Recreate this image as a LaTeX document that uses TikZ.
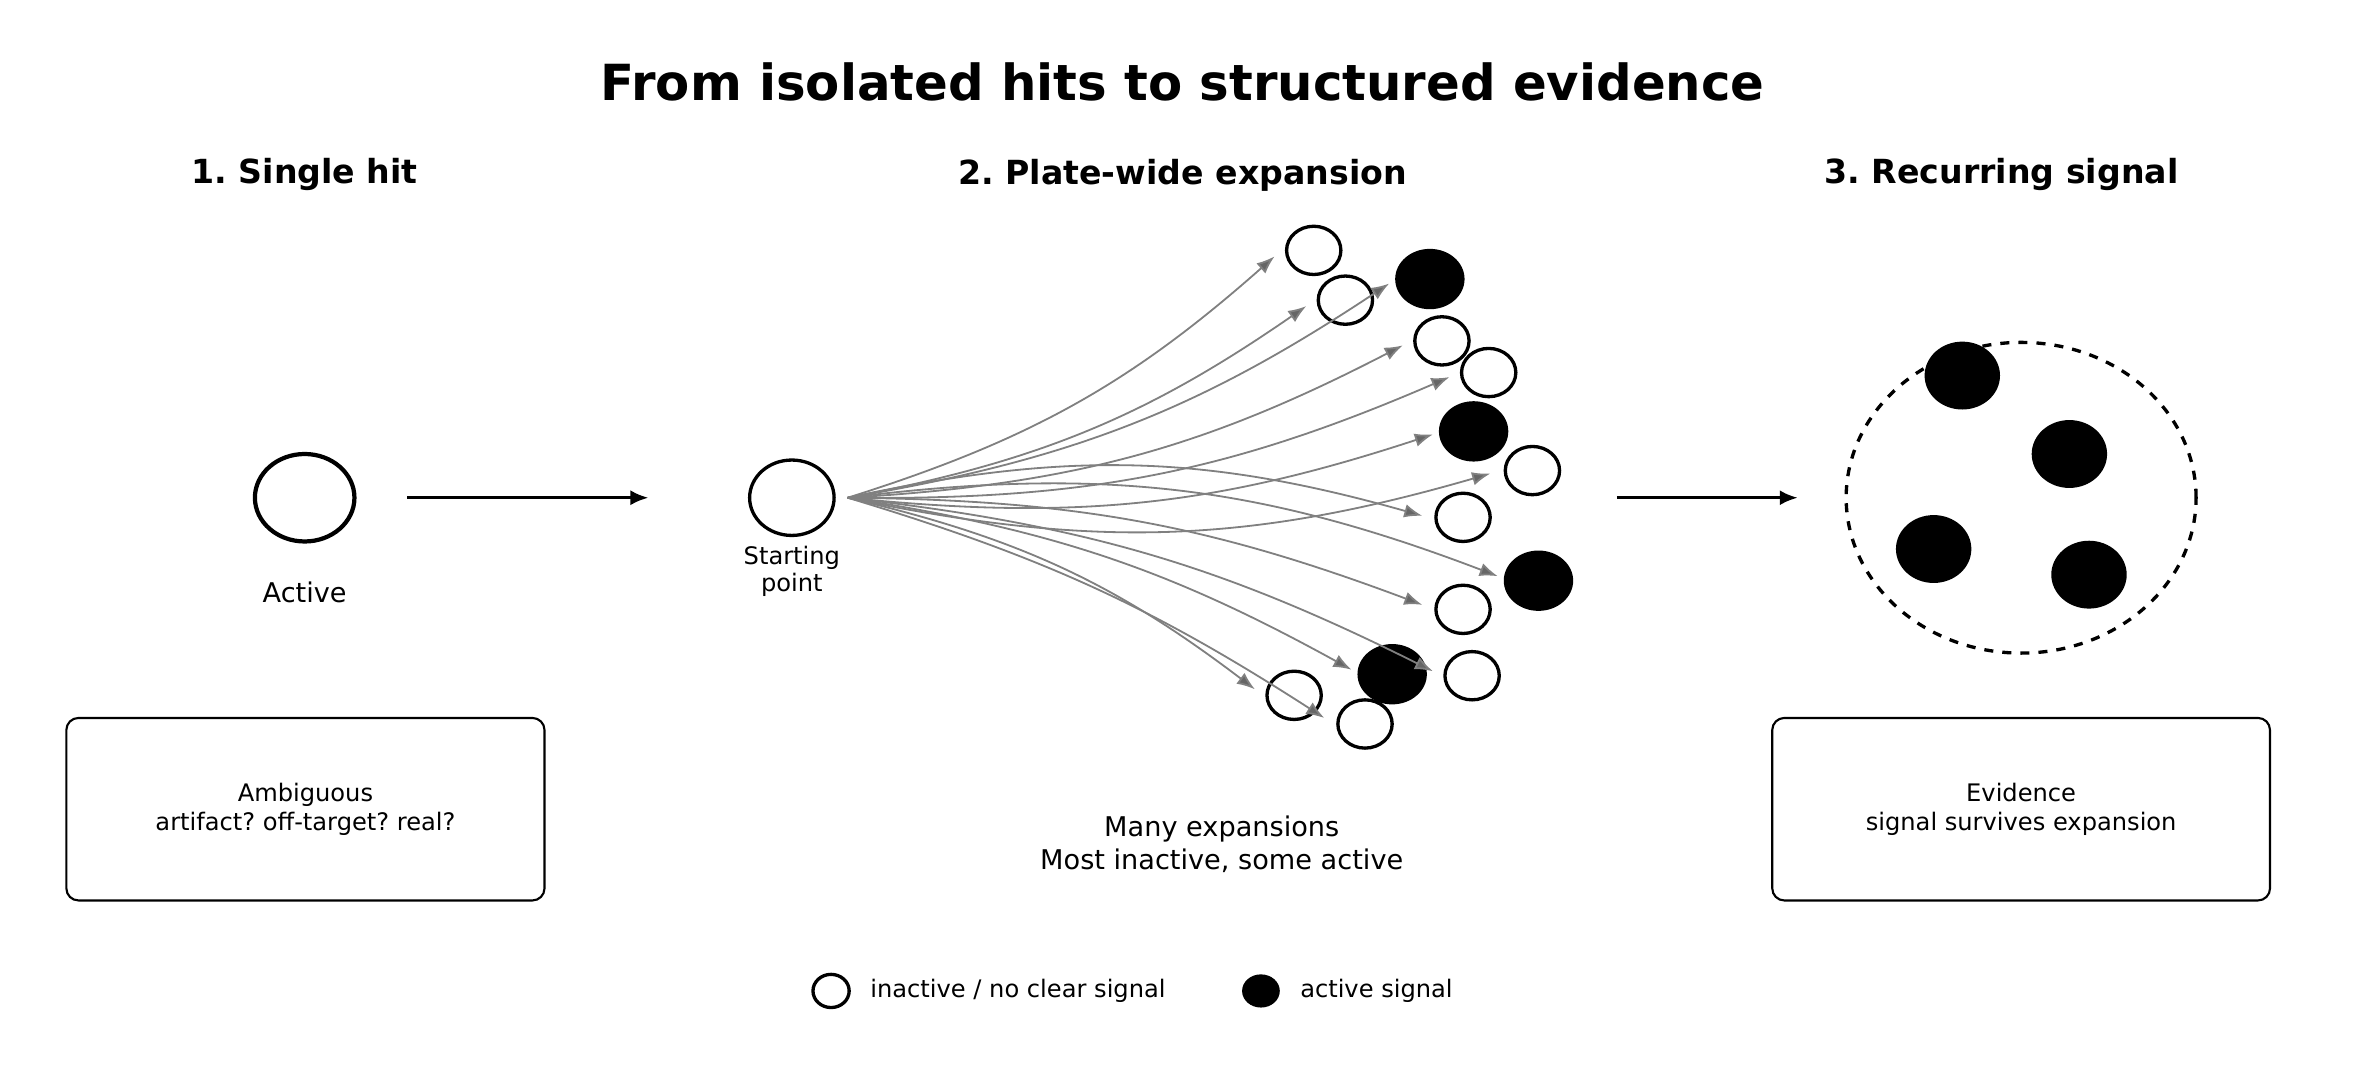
\documentclass[tikz,border=0pt]{standalone}
\usepackage{fontspec}
\setmainfont{DejaVu Sans}
\usetikzlibrary{arrows.meta,shapes.geometric}
\frenchspacing
\begin{document}
\begin{tikzpicture}[x=0.5pt,y=-0.5pt,
  op/.style={draw=black,line width=1.1pt,fill=white,ellipse,minimum width=18pt,minimum height=16pt,inner sep=0pt},
  fl/.style={fill=black,ellipse,minimum width=23pt,minimum height=20pt,inner sep=0pt},
  ex/.style={draw=gray,line width=0.6pt,-{Latex[length=6pt,width=4.5pt,fill=gray!80!black]}},
  main/.style={line width=1.1pt,-{Latex[length=6pt,width=5pt]}},
  box/.style={draw,line width=0.7pt,rounded corners=4pt,minimum width=158.5pt,minimum height=60.5pt,align=center,font=\fontsize{8}{9.5}\selectfont},
  hd/.style={font=\bfseries\fontsize{11}{13}\selectfont}]
\useasboundingbox (0,0) rectangle (1568,706.1);
\node[font=\bfseries\fontsize{16.5}{19}\selectfont] (title) at (784,54) {From isolated hits to structured evidence};
\node[hd] (h1) at (202,116) {1. Single hit};
\node[hd] (h2) at (784,116) {2. Plate-wide expansion};
\node[hd] (h3) at (1327,116) {3. Recurring signal};
% panel 1
\node[draw,ellipse,line width=1.4pt,minimum width=33pt,minimum height=29pt] (act) at (202,330) {};
\node[font=\fontsize{9}{11}\selectfont] (actl) at (202,393) {Active};
\coordinate (a1s) at (270,330); \coordinate (a1e) at (430,330);
\draw[main] (a1s) -- (a1e);
\node[box] (b1) at (202.5,536.5) {Ambiguous\\artifact? off-target? real?};
% panel 2
\node[draw,ellipse,line width=1.1pt,minimum width=28pt,minimum height=25pt] (sp) at (525,330) {};
\node[align=center,font=\fontsize{8}{9}\selectfont] (spl) at (525,379) {Starting\\point};
\coordinate (src) at (562,330);
\node[op] (t1) at (871,166) {};
\node[fl] (t2) at (948,185) {};
\node[op] (t3) at (892,199) {};
\node[op] (t4) at (956,226) {};
\node[op] (t5) at (987,247) {};
\node[fl] (t6) at (977,286) {};
\node[op] (t7) at (1016,312) {};
\node[op] (t8) at (970,343) {};
\node[fl] (t9) at (1020,385) {};
\node[op] (t10) at (970,404) {};
\node[op] (t11) at (976,448) {};
\node[fl] (t12) at (923,447) {};
\node[op] (t13) at (858,461) {};
\node[op] (t14) at (905,480) {};
\coordinate (e1) at (845,170); \coordinate (e2) at (866,203); \coordinate (e3) at (921,188);
\coordinate (e4) at (930,229); \coordinate (e5) at (961,250); \coordinate (e6) at (950,288);
\coordinate (e7) at (988,314); \coordinate (e8) at (943,342); \coordinate (e9) at (993,382);
\coordinate (e10) at (943,401); \coordinate (e11) at (950,445); \coordinate (e12) at (896,444);
\coordinate (e13) at (832,457); \coordinate (e14) at (878,476);
\draw[ex] (src) to[bend right=12] (e1);
\draw[ex] (src) to[bend right=12] (e2);
\draw[ex] (src) to[bend right=12] (e3);
\draw[ex] (src) to[bend right=12] (e4);
\draw[ex] (src) to[bend right=12] (e5);
\draw[ex] (src) to[bend right=12] (e6);
\draw[ex] (src) to[bend right=14] (e7);
\draw[ex] (src) to[bend left=14] (e8);
\draw[ex] (src) to[bend left=14] (e9);
\draw[ex] (src) to[bend left=10] (e10);
\draw[ex] (src) to[bend left=10] (e11);
\draw[ex] (src) to[bend left=10] (e12);
\draw[ex] (src) to[bend left=12] (e13);
\draw[ex] (src) to[bend left=8] (e14);
\node[align=center,font=\fontsize{9}{11}\selectfont] (cap) at (810,560) {Many expansions\\Most inactive, some active};
% panel 3
\coordinate (a3s) at (1072,330); \coordinate (a3e) at (1192,330);
\draw[main] (a3s) -- (a3e);
\node[draw,dashed,ellipse,line width=1.1pt,minimum width=116pt,minimum height=103pt] (cl) at (1340,330) {};
\node[fl,minimum width=25pt,minimum height=22.5pt] (c1) at (1301,249) {};
\node[fl,minimum width=25pt,minimum height=22.5pt] (c2) at (1372,301) {};
\node[fl,minimum width=25pt,minimum height=22.5pt] (c3) at (1282,364) {};
\node[fl,minimum width=25pt,minimum height=22.5pt] (c4) at (1385,381) {};
\node[box,minimum width=165pt] (b3) at (1340,536.5) {Evidence\\signal survives expansion};
% legend
\node[op,minimum width=12pt,minimum height=11pt] (l1) at (551,657) {};
\node[anchor=west,font=\fontsize{8}{10}\selectfont] (l1t) at (570,657) {inactive / no clear signal};
\node[fl,minimum width=12.5pt,minimum height=11pt] (l2) at (836,657) {};
\node[anchor=west,font=\fontsize{8}{10}\selectfont] (l2t) at (855,657) {active signal};
\end{tikzpicture}
\end{document}
